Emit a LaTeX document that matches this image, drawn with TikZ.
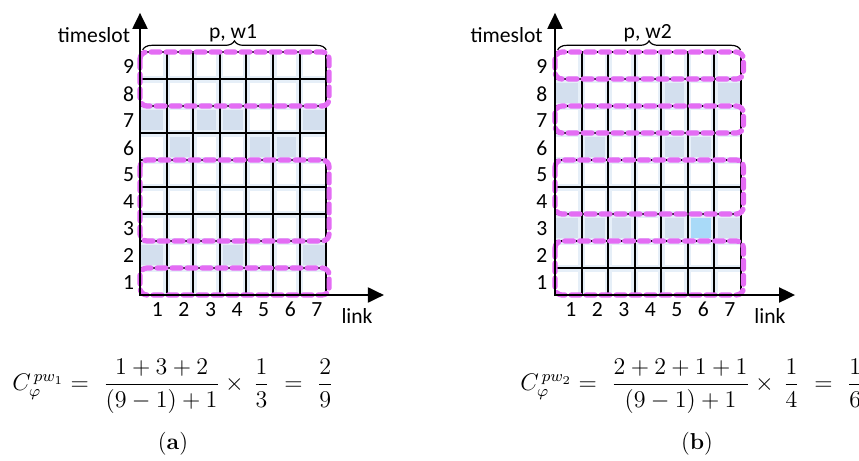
\documentclass[tikz,border=0pt]{standalone}
\usepackage{fontspec}
\usepackage{amsmath}
\newfontfamily\lab{Carlito}
\usetikzlibrary{decorations.pathreplacing,arrows.meta}
\definecolor{cellshade}{HTML}{D3DFEE}
\definecolor{cellhi}{HTML}{A9DAF8}
\definecolor{wincol}{HTML}{E46CF4}
\definecolor{glowcol}{HTML}{E6EFF8}
\begin{document}
\begin{tikzpicture}[x=0.5pt,y=-0.5pt,
  gridline/.style={line width=1pt,black,line cap=rect},
  gridglow/.style={line width=3.5pt,glowcol},
  winbox/.style={draw=wincol,line width=2.6pt,dash pattern=on 4.5pt off 3pt,line cap=round,rounded corners=3.5pt},
  axisline/.style={line width=1pt,black,-{Triangle[length=8pt,width=7.5pt]}},
  bracestyle/.style={line width=0.6pt,decorate,decoration={brace,amplitude=4.5pt}},
  lbl/.style={font=\lab\fontsize{10.8}{12}\selectfont,inner sep=0pt},
  formula/.style={font=\fontsize{12}{14}\selectfont,inner sep=0pt},
  sublabel/.style={font=\fontsize{11.5}{13}\selectfont,inner sep=0pt}]
\useasboundingbox (0,0) rectangle (859,461);

% ---------- panel (a) ----------
\begin{scope}[shift={(140,52)},x=13.3pt,y=-13.5pt]
  \foreach \c/\r in {1/7,3/7,4/7,7/7,2/6,5/6,6/6,1/2,4/2,7/2}
    \fill[cellshade] (\c-1,9-\r) rectangle (\c,10-\r);
  \foreach \i in {1,...,6} \draw[gridglow] (\i,0) -- (\i,9);
  \foreach \j in {1,...,8} \draw[gridglow] (0,\j) -- (7,\j);
  \foreach \i in {0,...,7} \draw[gridline] (\i,0) -- (\i,9);
  \foreach \j in {0,...,9} \draw[gridline] (0,\j) -- (7,\j);
  \draw[winbox] (0,0) rectangle (7.11,2);
  \draw[winbox] (0,4) rectangle (7.11,7);
  \draw[winbox] (0,8) rectangle (7.11,9);
  \coordinate (aO) at (0,9);
  \coordinate (aY) at (0,-1.45);
  \coordinate (aX) at (9.17,9);
  \draw[axisline] (aO) -- (aY);
  \draw[axisline] (aO) -- (aX);
  \coordinate (aB1) at (0.1,-0.08);
  \coordinate (aB2) at (7,-0.08);
  \draw[bracestyle] (aB1) -- (aB2);
  \node[lbl,anchor=base] (apw) at (3.5,-0.5) {p, w1};
  \node[lbl,anchor=base east] (ats) at (-0.36,-0.37) {timeslot};
  \foreach \r in {1,...,9}
    \node[lbl] (ar\r) at (-0.43,9.55-\r) {\r};
  \foreach \c in {1,...,7}
    \node[lbl,anchor=base] (ac\c) at (\c-0.35,9.81) {\c};
  \node[lbl,anchor=base] (alink) at (8.16,10.04) {link};
\end{scope}

% ---------- panel (b) ----------
\begin{scope}[shift={(555,52)},x=13.25pt,y=-13.5pt]
  \foreach \c/\r in {1/8,5/8,7/8,2/6,5/6,6/6,1/3,2/3,3/3,5/3,7/3}
    \fill[cellshade] (\c-1,9-\r) rectangle (\c,10-\r);
  \fill[cellhi] (5,6) rectangle (6,7);
  \foreach \i in {1,...,6} \draw[gridglow] (\i,0) -- (\i,9);
  \foreach \j in {1,...,8} \draw[gridglow] (0,\j) -- (7,\j);
  \foreach \i in {0,...,7} \draw[gridline] (\i,0) -- (\i,9);
  \foreach \j in {0,...,9} \draw[gridline] (0,\j) -- (7,\j);
  \draw[winbox] (0,0) rectangle (7.11,1);
  \draw[winbox] (0,2) rectangle (7.11,3);
  \draw[winbox] (0,4) rectangle (7.11,6);
  \draw[winbox] (0,7) rectangle (7.11,9);
  \coordinate (bO) at (0,9);
  \coordinate (bY) at (0,-1.45);
  \coordinate (bX) at (9.06,9);
  \draw[axisline] (bO) -- (bY);
  \draw[axisline] (bO) -- (bX);
  \coordinate (bB1) at (0.1,-0.08);
  \coordinate (bB2) at (7,-0.08);
  \draw[bracestyle] (bB1) -- (bB2);
  \node[lbl,anchor=base] (bpw) at (3.5,-0.5) {p, w2};
  \node[lbl,anchor=base east] (bts) at (-0.45,-0.37) {timeslot};
  \foreach \r in {1,...,9}
    \node[lbl] (br\r) at (-0.5,9.55-\r) {\r};
  \foreach \c in {1,...,7}
    \node[lbl,anchor=base] (bc\c) at (\c-0.4,9.81) {\c};
  \node[lbl,anchor=base] (blink) at (8.11,10.04) {link};
\end{scope}

% ---------- formulas ----------
\node[formula] (fa) at (173,386)
  {$C_{\varphi}^{\,pw_1} =\ \dfrac{1+3+2}{(9-1)+1}\times\,\dfrac{1}{3}\ =\ \dfrac{2}{9}$};
\node[formula] (fb) at (692,386)
  {$C_{\varphi}^{\,pw_2} =\ \dfrac{2+2+1+1}{(9-1)+1}\times\,\dfrac{1}{4}\ =\ \dfrac{1}{6}$};
\node[sublabel] (la) at (173,444) {(\textbf{a})};
\node[sublabel] (lb) at (697,444) {(\textbf{b})};
\end{tikzpicture}
\end{document}
